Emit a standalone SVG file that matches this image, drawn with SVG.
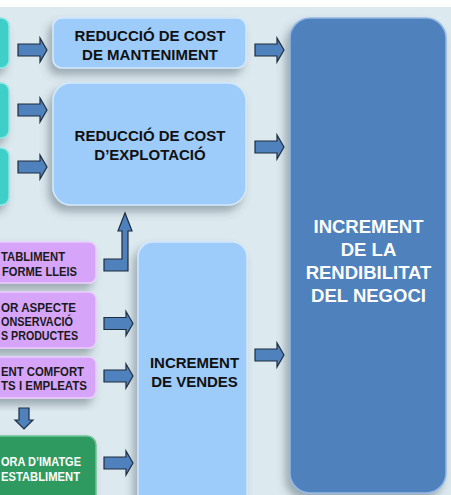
<svg xmlns="http://www.w3.org/2000/svg" width="451" height="495" viewBox="0 0 451 495">
<defs>
<style>
.t{font-family:"Liberation Sans",Arial,sans-serif;font-weight:bold;}
.mid{font-size:15px;fill:#111;text-anchor:middle;}
.big{font-size:18.5px;fill:#fff;text-anchor:middle;}
.sm{font-size:12px;fill:#1a1a1a;}
.smw{font-size:12px;fill:#fff;}
.lb{fill:#9dcbfa;stroke:#d2e8ff;stroke-width:1.5;}
.teal{fill:#3ecfc8;stroke:#8be8e2;stroke-width:1.5;}
.pur{fill:#d6a5fa;stroke:#eccdff;stroke-width:1.5;}
.grn{fill:#2f9a60;stroke:#6cc495;stroke-width:1.5;}
.dk{fill:#4f81bd;stroke:#93b7e4;stroke-width:1.5;}
.ar{fill:#4f81bd;stroke:#1f2d3d;stroke-width:1.2;stroke-linejoin:miter;}
</style>
<filter id="sh" x="-30%" y="-30%" width="160%" height="160%">
<feDropShadow dx="-4" dy="6" stdDeviation="4" flood-color="#4a5a60" flood-opacity="0.45"/>
</filter>
<path id="ra" d="M0,-6 H22 V-12 L29,0 L22,12 V6 H0 Z"/>
</defs>
<rect x="0" y="0" width="451" height="495" fill="#ffffff"/>
<rect x="0" y="7" width="451" height="488" fill="#dce9ef"/>

<g id="teal1"><rect class="teal" x="-20" y="18" width="29" height="50" rx="8" filter="url(#sh)"/></g>
<g id="teal2"><rect class="teal" x="-20" y="83" width="29" height="55" rx="8" filter="url(#sh)"/></g>
<g id="teal3"><rect class="teal" x="-20" y="148" width="29" height="57" rx="8" filter="url(#sh)"/></g>

<g id="manteniment">
<rect class="lb" x="53" y="18" width="193" height="50" rx="9" filter="url(#sh)"/>
<text class="t mid" x="150" y="40.5">REDUCCIÓ DE COST</text>
<text class="t mid" x="150" y="59.5">DE MANTENIMENT</text>
</g>

<g id="explotacio">
<rect class="lb" x="53" y="83" width="193" height="122" rx="18" filter="url(#sh)"/>
<text class="t mid" x="150" y="141">REDUCCIÓ DE COST</text>
<text class="t mid" x="150" y="160">D’EXPLOTACIÓ</text>
</g>

<g id="rendibilitat">
<rect class="dk" x="290" y="18" width="156" height="475" rx="20" filter="url(#sh)"/>
<text class="t big" x="368.5" y="233">INCREMENT</text>
<text class="t big" x="368.5" y="256">DE LA</text>
<text class="t big" x="368.5" y="279">RENDIBILITAT</text>
<text class="t big" x="368.5" y="302">DEL NEGOCI</text>
</g>

<g id="vendes">
<rect class="lb" x="138" y="242" width="109" height="270" rx="15" filter="url(#sh)"/>
<text class="t mid" x="194.5" y="368">INCREMENT</text>
<text class="t mid" x="194.5" y="387">DE VENDES</text>
</g>

<g id="lleis">
<rect class="pur" x="-30" y="242" width="126" height="41" rx="7" filter="url(#sh)"/>
<text class="t sm" x="1" y="260.5" textLength="64" lengthAdjust="spacingAndGlyphs">TABLIMENT</text>
<text class="t sm" x="2" y="275.5" textLength="75" lengthAdjust="spacingAndGlyphs">FORME LLEIS</text>
</g>

<g id="aspecte">
<rect class="pur" x="-30" y="292" width="126" height="56" rx="7" filter="url(#sh)"/>
<text class="t sm" x="1" y="311.5" textLength="75" lengthAdjust="spacingAndGlyphs">OR ASPECTE</text>
<text class="t sm" x="1" y="325.5" textLength="72" lengthAdjust="spacingAndGlyphs">ONSERVACIÓ</text>
<text class="t sm" x="1" y="340" textLength="77" lengthAdjust="spacingAndGlyphs">S PRODUCTES</text>
</g>

<g id="comfort">
<rect class="pur" x="-30" y="357" width="126" height="41" rx="7" filter="url(#sh)"/>
<text class="t sm" x="1" y="376" textLength="83" lengthAdjust="spacingAndGlyphs">ENT COMFORT</text>
<text class="t sm" x="1" y="390" textLength="86" lengthAdjust="spacingAndGlyphs">TS I EMPLEATS</text>
</g>

<g id="imatge">
<rect class="grn" x="-30" y="436" width="126" height="80" rx="9" filter="url(#sh)"/>
<text class="t smw" x="1" y="466" textLength="80" lengthAdjust="spacingAndGlyphs">ORA D’IMATGE</text>
<text class="t smw" x="1" y="480.5" textLength="79" lengthAdjust="spacingAndGlyphs">ESTABLIMENT</text>
</g>

<g id="connectors">
<use href="#ra" class="ar" transform="translate(18,50)"/>
<use href="#ra" class="ar" transform="translate(18,110)"/>
<use href="#ra" class="ar" transform="translate(18,167)"/>
<use href="#ra" class="ar" transform="translate(255,50)"/>
<use href="#ra" class="ar" transform="translate(255,147)"/>
<use href="#ra" class="ar" transform="translate(255,355)"/>
<use href="#ra" class="ar" transform="translate(104,323.5)"/>
<use href="#ra" class="ar" transform="translate(104,376)"/>
<use href="#ra" class="ar" transform="translate(104,463)"/>
<path class="ar" d="M19,408 H29 V420 H33 L24,429 L15,420 H19 Z"/>
<path class="ar" d="M104,259 H122 V231 H118 L125,213 L132,231 H128 V271 H104 Z"/>
</g>
</svg>
